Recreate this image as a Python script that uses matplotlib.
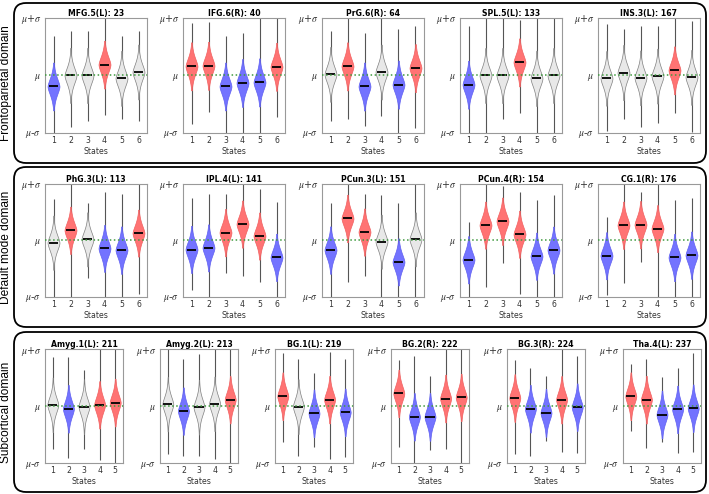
import numpy as np
import matplotlib.pyplot as plt
from matplotlib.patches import FancyBboxPatch

plt.rcParams['mathtext.fontset'] = 'stix'

# ---- data (values in units of sigma around the mean) ----
fp_titles = ['MFG.5(L): 23', 'IFG.6(R): 40', 'PrG.6(R): 64', 'SPL.5(L): 133', 'INS.3(L): 167']
fp_means = [[-0.19, 0.00, 0.00, 0.19, -0.05, 0.06],
            [0.16, 0.17, -0.19, -0.13, -0.12, 0.15],
            [0.02, 0.16, -0.19, 0.06, -0.16, 0.13],
            [-0.16, 0.00, 0.00, 0.23, -0.05, 0.00],
            [-0.05, 0.05, -0.04, -0.01, 0.09, -0.03]]
fp_lows = [[-1.0, -0.89, -0.80, -0.69, -0.76, -0.80],
           [-0.85, -0.63, -1.0, -1.0, -1.0, -0.72],
           [-0.80, -0.76, -0.88, -0.71, -1.0, -0.92],
           [-1.0, -1.0, -0.75, -0.65, -1.0, -1.0],
           [-0.96, -0.76, -0.90, -0.82, -0.66, -0.98]]
fp_highs = [[0.68, 0.77, 0.77, 1.0, 0.68, 0.77],
            [0.92, 0.93, 0.68, 0.74, 1.0, 1.0],
            [0.77, 1.0, 0.74, 1.0, 0.81, 0.86],
            [0.86, 1.0, 1.0, 0.97, 1.0, 1.0],
            [0.89, 0.81, 0.86, 0.86, 1.0, 0.94]]
fp_groups = ['bnnrnn', 'rrbbbr', 'nrbnbr', 'bnnrnn', 'nnnnrn']

dm_titles = ['PhG.3(L): 113', 'IPL.4(L): 141', 'PCun.3(L): 151', 'PCun.4(R): 154', 'CG.1(R): 176']
dm_means = [[-0.04, 0.18, 0.02, -0.14, -0.17, 0.13],
            [-0.16, -0.13, 0.14, 0.29, 0.08, -0.30],
            [-0.17, 0.39, 0.15, -0.02, -0.38, 0.02],
            [-0.34, 0.27, 0.34, 0.11, -0.28, -0.17],
            [-0.27, 0.27, 0.28, 0.21, -0.30, -0.26]]
dm_lows = [[-1.0, -1.0, -0.67, -1.0, -1.0, -0.94],
           [-0.88, -1.0, -0.57, -0.62, -0.73, -1.0],
           [-1.0, -0.73, -0.63, -1.0, -1.0, -1.0],
           [-1.0, -0.83, -0.40, -0.94, -1.0, -1.0],
           [-0.97, -0.76, -0.38, -1.0, -1.0, -1.0]]
dm_highs = [[0.73, 1.0, 0.67, 0.85, 0.83, 1.0],
            [0.75, 0.83, 0.83, 1.0, 0.92, 0.69],
            [0.66, 1.0, 0.83, 0.80, 0.66, 1.0],
            [0.33, 1.0, 0.96, 0.85, 0.72, 0.80],
            [0.42, 1.0, 0.86, 1.0, 0.72, 0.75]]
dm_groups = ['nrnbbr', 'bbrrrb', 'brrnbn', 'brrrbb', 'brrrbb']

sc_titles = ['Amyg.1(L): 211', 'Amyg.2(L): 213', 'BG.1(L): 219', 'BG.2(R): 222', 'BG.3(R): 224', 'Tha.4(L): 237']
sc_means = [[0.02, -0.05, -0.01, 0.02, 0.06],
            [0.03, -0.09, -0.02, 0.04, 0.11],
            [0.17, -0.01, -0.13, 0.11, -0.11],
            [0.22, -0.19, -0.19, 0.13, 0.15],
            [0.14, -0.05, -0.12, 0.11, -0.02],
            [0.17, 0.11, -0.15, -0.06, -0.04]]
sc_lows = [[-0.75, -0.91, -0.75, -0.94, -1.0],
           [-0.84, -0.88, -0.88, -0.93, -1.0],
           [-0.64, -0.87, -0.72, -0.93, -0.89],
           [-0.72, -1.0, -0.77, -0.75, -1.0],
           [-0.84, -0.88, -0.62, -0.80, -0.82],
           [-0.44, -0.74, -0.64, -0.82, -0.81]]
sc_highs = [[0.86, 0.86, 0.63, 1.0, 1.0],
            [1.0, 0.82, 0.92, 1.0, 1.0],
            [0.93, 0.82, 0.58, 0.94, 0.82],
            [0.80, 0.87, 0.53, 1.0, 1.0],
            [0.81, 0.67, 0.53, 1.0, 0.87],
            [0.73, 0.82, 0.51, 0.67, 0.93]]
sc_groups = ['nbnrr', 'nbnnr', 'rnbrb', 'rbbrr', 'rbbrb', 'rrbbb']

domain_names = ['Frontoparietal domain', 'Default mode domain', 'Subcortical domain']

face = {'r': '#ff7373', 'b': '#7373ff', 'n': '#e8e8e8'}
edge = {'r': '#f06060', 'b': '#6060f0', 'n': '#808080'}

W, H = 709, 494
fig = plt.figure(figsize=(W / 100, H / 100), dpi=100)


def px_axes(left, top, width, height):
    return fig.add_axes([left / W, 1 - (top + height) / H, width / W, height / H])


def draw_panel(ax, title, means, lows, highs, groups):
    n = len(means)
    pos = np.arange(1, n + 1)
    # thin whiskers spanning the full range of each distribution
    ax.vlines(pos, lows, highs, color='#555555', lw=0.8, zorder=1)
    stats = []
    for m, lo, hi, g in zip(means, lows, highs, groups):
        coords = np.linspace(lo, hi, 300)
        vals = np.exp(-(np.abs(coords - m) / 0.22) ** 1.6)
        keep = vals > (0.03 if g == 'n' else 0.06)
        stats.append(dict(coords=coords[keep], vals=vals[keep], mean=m, median=m,
                          min=lo, max=hi))
    parts = ax.violin(stats, positions=pos, widths=0.7, showmeans=False,
                      showextrema=False, showmedians=False)
    for body, g in zip(parts['bodies'], groups):
        body.set_facecolor(face[g])
        body.set_edgecolor(edge[g])
        body.set_linewidth(0.5)
        body.set_alpha(1)
        body.set_zorder(2)
    ax.hlines(means, pos - 0.29, pos + 0.29, color='black', lw=1.3, zorder=3)
    ax.axhline(0, color='#3f9a3f', ls=':', lw=1.1, zorder=4)
    ax.set_xlim(0.5, n + 0.5)
    ax.set_ylim(-1, 1)
    ax.set_xticks(pos)
    ax.set_xticklabels([str(p) for p in pos])
    ax.set_yticks([-1, 0, 1])
    ax.set_yticklabels([r'$\mu$-$\sigma$', r'$\mu$', r'$\mu$+$\sigma$'])
    ax.tick_params(length=0, labelsize=5.6, colors='#333333', pad=2.5)
    for lab in ax.get_yticklabels():
        lab.set_fontsize(7)
    for sp in ax.spines.values():
        sp.set_color('#999999')
        sp.set_linewidth(0.8)
    ax.set_title(title, fontsize=5.6, fontweight='bold', pad=1.5)
    ax.set_xlabel('States', fontsize=5.6, color='#333333', labelpad=1)


rows = [
    (fp_titles, fp_means, fp_lows, fp_highs, fp_groups, 18, 115, [45, 183, 322, 460, 598], 102),
    (dm_titles, dm_means, dm_lows, dm_highs, dm_groups, 184, 113, [45, 183, 322, 460, 598], 102),
    (sc_titles, sc_means, sc_lows, sc_highs, sc_groups, 349, 114, [45, 160, 275, 391, 507, 623], 78),
]
for titles, means, lows, highs, groups, top, height, lefts, width in rows:
    for i, left in enumerate(lefts):
        ax = px_axes(left, top, width, height)
        draw_panel(ax, titles[i], means[i], lows[i], highs[i], groups[i])

# rounded domain boxes
boxes = [(3, 163), (167, 327), (332, 492)]
for (y0, y1), name in zip(boxes, domain_names):
    patch = FancyBboxPatch((14 / W, 1 - y1 / H), (706 - 14) / W, (y1 - y0) / H,
                           boxstyle='round,pad=0,rounding_size=0.017',
                           mutation_aspect=W / H, transform=fig.transFigure,
                           fill=False, edgecolor='black', lw=1.3)
    fig.add_artist(patch)
    fig.text(6 / W, 1 - (y0 + y1) / 2 / H, name, rotation=90, ha='center', va='center',
             fontsize=8.6, family='Liberation Sans')

fig.savefig('out.png', dpi=100)
